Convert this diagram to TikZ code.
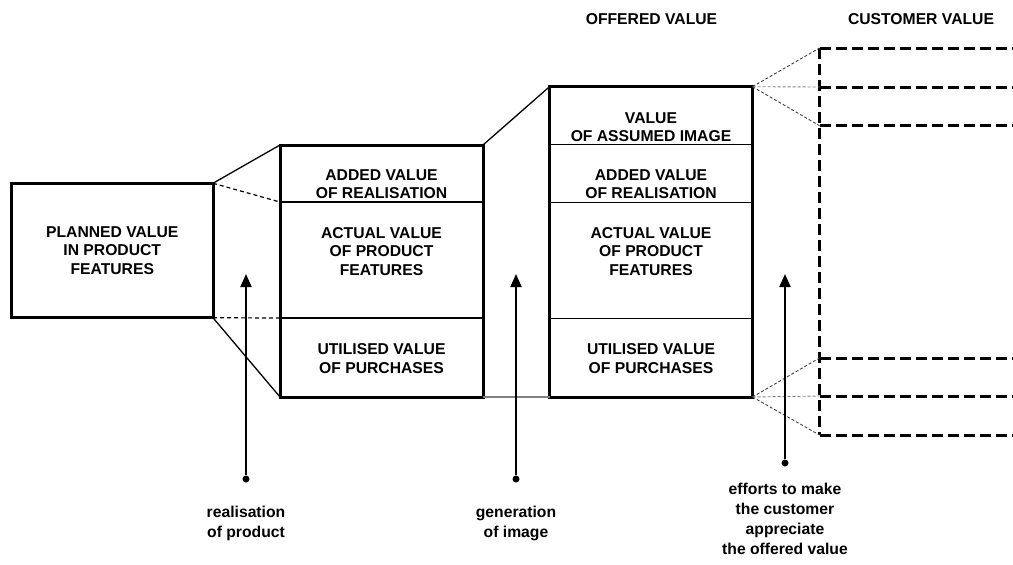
\documentclass[tikz,border=0pt]{standalone}
\usepackage{fontspec}
\setmainfont{Liberation Sans}
\usetikzlibrary{positioning,arrows.meta}

\begin{document}
\begin{tikzpicture}[x=1pt,y=-1pt,every node/.style={font=\bfseries\fontsize{15.7}{18.5}\selectfont,align=center,inner sep=0pt},box/.style={draw,line width=3pt,outer sep=0pt},divider/.style={line width=1.5pt},link/.style={line width=1.2pt,dash pattern=on 4pt off 3pt},fade/.style={line width=0.9pt,black!75,dash pattern=on 3pt off 2pt},cust/.style={line width=3pt,dash pattern=on 11pt off 5pt},dot/.style={circle,fill,minimum size=7pt},shaft/.style={line width=2pt,-{Triangle[length=13pt,width=11pt]}},hint/.style={font=\bfseries\fontsize{15.7}{20}\selectfont}]
		\useasboundingbox (0,0) rectangle (1013,565);

		% headers
		\node	(h1)	at (651.5,19.5)	{OFFERED VALUE};
		\node	(h2)	at (921,19.5)	{CUSTOMER VALUE};

		% boxes
		\node[box,minimum width=201.5pt,minimum height=134.5pt]	(planned)	at (112.25,250.5)	{PLANNED VALUE\\IN PRODUCT\\FEATURES};
		\node[box,minimum width=203pt,minimum height=252pt]		(actual)	at (381.5,271)		{};
		\node[box,minimum width=203pt,minimum height=310.3pt]	(offered)	at (651,241.85)		{};

		\coordinate	(a1)	at (280,202);
		\coordinate	(a2)	at (280,318);
		\coordinate	(b0)	at (549.5,144.3);
		\coordinate	(b1)	at (549.5,202.3);
		\coordinate	(b2)	at (549.5,318.3);
		\draw[divider] (a1) -- (a1 -| actual.east);
		\draw[divider] (a2) -- (a2 -| actual.east);
		\draw[divider] (b0) -- (b0 -| offered.east);
		\draw[divider] (b1) -- (b1 -| offered.east);
		\draw[divider] (b2) -- (b2 -| offered.east);

		\node	(m1)	at (381.5,184)		{ADDED VALUE\\OF REALISATION};
		\node	(m2)	at (381.5,251.5)	{ACTUAL VALUE\\OF PRODUCT\\FEATURES};
		\node	(m3)	at (381.5,358.5)	{UTILISED VALUE\\OF PURCHASES};
		\node	(o0)	at (651,127)		{VALUE\\OF ASSUMED IMAGE};
		\node	(o1)	at (651,184)		{ADDED VALUE\\OF REALISATION};
		\node	(o2)	at (651,251.5)		{ACTUAL VALUE\\OF PRODUCT\\FEATURES};
		\node	(o3)	at (651,358.5)		{UTILISED VALUE\\OF PURCHASES};

		% customer value
		\coordinate	(c1)	at (819.5,48);
		\coordinate	(c2)	at (819.5,87);
		\coordinate	(c3)	at (819.5,125.7);
		\coordinate	(c4)	at (819.5,358);
		\coordinate	(c5)	at (819.5,396);
		\coordinate	(c6)	at (819.5,435);
		\draw[cust] (c1) -- (c6);
		\draw[cust] (c1) -- ++(200,0);
		\draw[cust] (c2) -- ++(200,0);
		\draw[cust] (c3) -- ++(200,0);
		\draw[cust] (c4) -- ++(200,0);
		\draw[cust] (c5) -- ++(200,0);
		\draw[cust] (c6) -- ++(200,0);

		% connectors
		\draw[line width=1.3pt] (planned.north east) -- (actual.north west);
		\draw[link] (planned.north east) -- (a1);
		\draw[link] (planned.south east) -- (a2);
		\draw[line width=1.3pt] (planned.south east) -- (actual.south west);
		\draw[line width=1.3pt] (actual.north east) -- (offered.north west);
		\draw[line width=1.5pt,gray] (actual.south east) -- (offered.south west);
		\draw[fade] (offered.north east) -- (c1);
		\draw[fade,gray] (offered.north east) -- (c2);
		\draw[fade] (offered.north east) -- (c3);
		\draw[fade] (offered.south east) -- (c4);
		\draw[fade,gray] (offered.south east) -- (c5);
		\draw[fade] (offered.south east) -- (c6);

		% arrows
		\node[dot]	(d1)	at (246,479)	{};
		\node[dot]	(d2)	at (516,479)	{};
		\node[dot]	(d3)	at (785,463)	{};
		\coordinate	(t1)	at (246,274);
		\coordinate	(t2)	at (516,274);
		\coordinate	(t3)	at (785,274);
		\draw[shaft] (d1) -- (t1);
		\draw[shaft] (d2) -- (t2);
		\draw[shaft] (d3) -- (t3);
		\node[hint]	(l1)	at (246,523)	{realisation\\of product};
		\node[hint]	(l2)	at (516,523)	{generation\\of image};
		\node[hint]	(l3)	at (785,518.5)	{efforts to make\\the customer\\appreciate\\the offered value};
	\end{tikzpicture}
\end{document}
